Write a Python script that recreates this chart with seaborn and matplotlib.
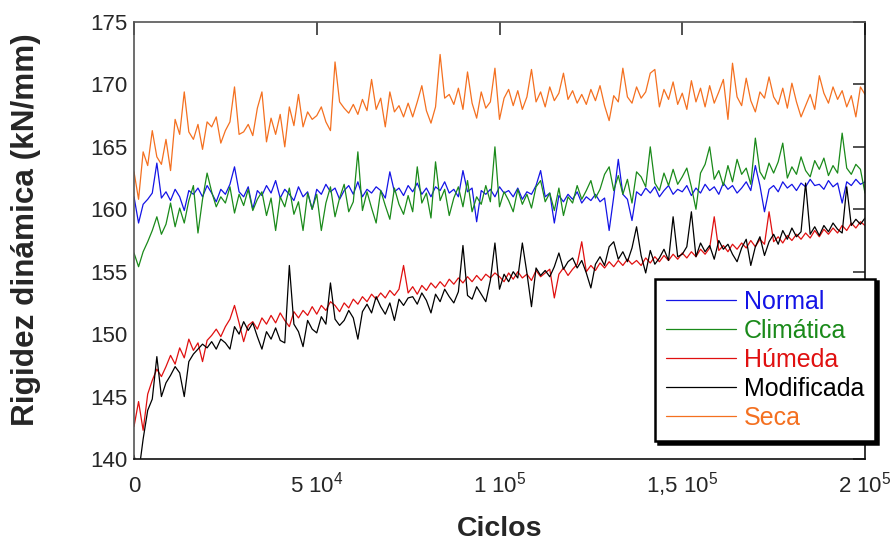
import numpy as np
import pandas as pd
import matplotlib
matplotlib.use("Agg")
import matplotlib.pyplot as plt
import seaborn as sns

# Load cycles, sampled every 1250 cycles
ciclos = np.arange(161) * 1250

normal = [
    161.0, 158.9, 160.4, 160.8, 161.3, 163.7, 160.9, 161.4, 160.7, 161.6, 161.0, 159.9, 161.5, 161.2, 161.7, 161.0, 161.9, 161.3, 160.6, 161.6,
    161.2, 162.0, 163.4, 161.4, 161.0, 161.8, 160.0, 161.5, 161.1, 161.9, 161.3, 162.3, 160.9, 161.6, 161.2, 160.7, 161.8, 161.0, 161.4, 160.0,
    161.6, 161.2, 162.0, 161.4, 161.7, 160.8, 161.5, 161.9, 161.2, 162.2, 161.0, 161.6, 161.3, 161.8, 161.5, 160.9, 163.0, 161.4, 161.7, 161.1,
    161.9, 161.4, 162.1, 161.2, 161.7, 161.0, 161.8, 161.5, 162.2, 161.3, 161.6, 161.0, 163.1, 161.4, 161.7, 159.0, 161.5, 161.2, 161.6, 161.0,
    161.8, 161.3, 161.5, 161.0, 161.7, 160.8, 161.4, 161.2, 161.9, 163.1, 161.0, 161.3, 158.9, 161.1, 160.6, 161.2, 160.8, 161.4, 160.5, 161.0,
    160.7, 161.2, 160.6, 160.9, 158.3, 161.0, 164.0, 161.2, 160.8, 159.1, 161.4, 161.1, 161.7, 161.3, 161.8, 161.0, 161.5, 161.9, 161.2, 161.6,
    161.4, 161.9, 161.1, 161.7, 161.3, 162.0, 161.5, 161.8, 161.2, 162.1, 161.6, 161.9, 161.3, 161.7, 162.2, 161.5, 163.5, 161.9, 159.8, 161.6,
    161.9, 161.4, 162.2, 161.7, 162.0, 161.5, 162.1, 161.8, 162.4, 161.9, 162.0, 161.6, 162.3, 161.8, 162.1, 160.5, 162.2, 161.9, 162.4, 162.0,
    162.2,
]

climatica = [
    156.5, 155.4, 156.6, 157.4, 158.3, 159.4, 158.0, 158.8, 160.5, 158.6, 160.1, 158.9, 160.7, 161.9, 158.1, 160.8, 162.9, 161.4, 160.2, 161.0,
    160.5, 161.8, 159.7, 161.2, 160.3, 161.6, 159.9, 160.8, 161.4, 159.5, 160.9, 158.3, 161.0, 160.2, 161.7, 159.6, 160.6, 158.3, 161.3, 160.0,
    161.2, 158.3, 160.5, 161.8, 159.4, 160.9, 162.0, 159.8, 160.6, 164.6, 159.9, 161.4, 160.1, 158.9, 161.5, 160.3, 159.2, 161.7, 160.4, 159.6,
    161.1, 159.8, 163.4, 160.5, 161.3, 159.3, 163.8, 160.7, 161.6, 159.5, 160.9, 161.8, 160.2, 162.3, 159.8, 161.0, 160.4, 161.9, 160.6, 165.0,
    160.2, 161.4, 160.7, 159.8, 161.6, 160.4, 161.2, 160.1, 161.8, 162.3, 160.6, 161.3, 159.9, 161.7, 159.5, 161.0, 160.5, 161.9, 160.8, 161.5,
    162.3, 160.9, 161.6, 162.8, 163.4, 161.5, 162.7, 161.2, 162.4, 160.5, 163.0, 162.6, 161.8, 165.0, 162.1, 161.5, 162.9, 161.9, 163.2, 162.0,
    162.6, 163.3, 161.8, 160.0, 162.9, 163.6, 165.0, 162.4, 163.1, 161.9, 163.5, 162.2, 164.0, 162.8, 163.3, 162.0, 165.7, 163.0, 162.4, 163.7,
    162.9, 163.8, 165.3, 162.5, 163.4, 162.8, 164.2, 163.1, 162.6, 163.9, 163.2, 164.1, 162.7, 163.5, 162.9, 166.1, 163.3, 162.8, 163.6, 163.2,
    161.3,
]

humeda = [
    142.6, 144.6, 142.3, 145.2, 146.3, 147.2, 146.6, 147.4, 148.3, 147.6, 148.9, 148.1, 149.6, 148.7, 149.3, 147.8, 149.5, 149.9, 150.4, 149.8,
    150.6, 151.2, 152.3, 150.9, 149.4, 150.7, 151.0, 150.4, 151.3, 150.8, 151.5, 150.9, 151.7, 151.1, 150.6, 151.8, 151.3, 151.9, 151.5, 152.2,
    151.6, 152.3, 151.9, 152.6, 152.3, 151.8, 152.5, 152.1, 152.8, 152.4, 153.0, 152.6, 153.2, 152.8, 153.3, 152.9, 153.5, 153.1, 153.6, 155.5,
    153.3, 153.8, 153.2, 153.9, 153.5, 154.1, 153.7, 154.2, 153.8, 154.4, 154.0, 154.5, 154.1, 154.6, 154.2, 154.7, 154.3, 154.8, 154.5, 154.9,
    154.6, 154.2, 154.9, 154.4, 155.0, 154.5, 154.8, 154.3, 155.1, 154.6, 154.9, 155.2, 152.9, 154.8, 155.3, 154.7, 155.2, 155.6, 157.4, 155.0,
    155.5, 155.1, 155.7, 155.3, 155.8, 155.4, 155.9, 155.5, 156.0, 155.6, 155.9, 155.5, 156.1, 155.7, 156.2, 155.8, 156.3, 155.9, 156.4, 156.0,
    156.5, 156.1, 156.6, 156.2, 156.8, 156.4, 156.9, 159.4, 156.7, 157.1, 156.6, 157.2, 156.8, 157.3, 156.9, 157.5, 157.0, 157.6, 157.2, 159.8,
    157.4, 157.8, 157.3, 157.9, 157.5, 158.0, 157.6, 158.1, 157.7, 158.3, 157.8, 158.4, 158.0, 158.5, 158.1, 158.7, 158.3, 158.9, 158.5, 159.0,
    158.7,
]

modificada = [
    140.3, 138.8, 141.6, 143.9, 144.8, 148.2, 145.0, 146.1, 146.7, 147.4, 146.9, 145.0, 147.8, 148.4, 148.8, 149.2, 148.9, 149.4, 148.8, 149.6,
    149.3, 148.8, 150.6, 150.0, 151.0, 150.3, 150.9, 149.8, 148.8, 150.2, 149.6, 150.5, 149.5, 149.3, 155.5, 150.8, 150.2, 149.0, 151.1, 150.4,
    150.1, 151.4, 150.8, 154.1, 151.2, 150.7, 151.1, 151.9, 151.3, 149.6, 151.8, 152.4, 151.7, 153.0, 152.2, 151.6, 152.5, 151.1, 152.8, 152.3,
    152.9, 153.0, 152.4, 153.3, 152.7, 151.7, 153.2, 152.6, 153.6, 153.0, 152.5, 153.4, 157.1, 153.1, 152.8, 153.8, 153.2, 152.6, 154.3, 157.3,
    153.6, 154.8, 154.2, 155.0, 154.5, 157.3, 154.9, 152.2, 155.3, 154.7, 155.1, 154.6, 155.4, 156.5, 155.2, 155.8, 156.1, 155.3, 155.9, 154.9,
    153.7, 155.6, 156.2, 155.5, 157.0, 157.4, 156.0, 156.6, 155.8, 156.9, 158.6, 156.3, 154.9, 156.7, 155.6, 156.1, 156.8, 155.9, 159.4, 156.2,
    156.4, 157.0, 159.8, 156.2, 157.3, 156.6, 157.1, 156.0, 157.5, 156.8, 157.2, 156.4, 155.8, 156.9, 157.6, 155.5, 157.0, 157.8, 156.3, 157.4,
    158.0, 157.2, 158.3, 157.6, 158.5, 157.8, 158.2, 162.1, 158.0, 158.6, 157.9, 158.7, 158.2, 158.9, 158.4, 158.1, 161.8, 158.7, 159.2, 158.8,
    159.3,
]

seca = [
    163.0, 160.8, 164.6, 163.5, 166.3, 164.2, 163.6, 165.6, 163.1, 167.2, 166.0, 169.4, 166.2, 165.6, 166.8, 164.8, 167.0, 166.6, 167.4, 165.3,
    166.3, 167.0, 169.8, 166.0, 166.2, 166.8, 165.9, 168.1, 169.4, 165.4, 167.3, 166.0, 167.6, 165.0, 168.2, 166.7, 169.2, 166.6, 167.8, 167.2,
    167.5, 168.2, 167.0, 166.3, 171.8, 168.6, 168.1, 167.7, 168.4, 167.6, 168.8, 167.9, 170.4, 168.0, 168.9, 166.6, 169.4, 167.8, 168.3, 167.4,
    168.5, 167.4, 168.6, 169.9, 167.9, 166.9, 168.2, 172.4, 168.9, 169.2, 168.4, 169.7, 168.0, 171.0, 168.5, 167.3, 169.4, 168.1, 168.6, 171.3,
    167.2, 168.9, 169.6, 168.3, 169.5, 168.0, 169.0, 171.2, 168.6, 169.4, 168.2, 169.8, 168.7, 169.3, 170.9, 168.8, 169.5, 168.5, 169.2, 168.4,
    169.6, 168.7, 169.9, 168.3, 167.1, 169.1, 168.6, 171.3, 169.0, 168.5, 169.8, 168.9, 169.4, 170.9, 171.2, 168.2, 169.6, 168.8, 170.2, 168.4,
    169.3, 168.0, 170.3, 168.6, 169.7, 168.2, 169.9, 168.5, 169.4, 170.4, 167.2, 171.7, 169.0, 168.3, 170.5, 168.7, 167.8, 169.4, 168.9, 170.6,
    169.0, 168.4, 169.7, 168.1, 170.1, 168.6, 167.4, 168.3, 169.2, 168.0, 170.7, 169.3, 168.5, 169.8, 168.8, 169.5, 168.2, 169.1, 167.4, 169.8,
    169.2,
]

series_names = ["Normal", "Climática", "Húmeda", "Modificada", "Seca"]
series_values = [normal, climatica, humeda, modificada, seca]
colores = {
    "Normal": "#1414e6",
    "Climática": "#1a8a1a",
    "Húmeda": "#e01010",
    "Modificada": "#000000",
    "Seca": "#f47020",
}

x_ticks = [0, 50000, 100000, 150000, 200000]
x_tick_labels = ["0", r"5 10$^{4}$", r"1 10$^{5}$", r"1,5 10$^{5}$", r"2 10$^{5}$"]
y_ticks = [140, 145, 150, 155, 160, 165, 170, 175]

df = pd.concat(
    [pd.DataFrame({"Ciclos": ciclos, "Rigidez": vals, "Ensayo": name})
     for name, vals in zip(series_names, series_values)],
    ignore_index=True,
)

sns.set_theme(style="white")
plt.rcParams["font.family"] = ["Liberation Sans", "DejaVu Sans"]
plt.rcParams["mathtext.fontset"] = "custom"
plt.rcParams["mathtext.rm"] = "Liberation Sans"
plt.rcParams["mathtext.it"] = "Liberation Sans"

fig = plt.figure(figsize=(8.96, 5.45), dpi=100)
ax = fig.add_axes([134 / 896, 1 - 459 / 545, 731 / 896, 437 / 545])

sns.lineplot(
    data=df, x="Ciclos", y="Rigidez", hue="Ensayo", hue_order=series_names,
    palette=colores, estimator=None, sort=False, linewidth=0.9, ax=ax, legend=False,
)

ax.set_xlim(0, 200000)
ax.set_ylim(140, 175)
ax.set_xticks(x_ticks)
ax.set_xticklabels(x_tick_labels, va="baseline")
ax.set_yticks(y_ticks)
ax.tick_params(axis="both", which="major", direction="in", length=9, width=1.2,
               top=True, right=True, labelsize=16, color="#333333")
ax.tick_params(axis="x", pad=24)
ax.tick_params(axis="y", pad=5)
for lbl in ax.get_xticklabels():
    lbl.set_verticalalignment("baseline")
for side, col in [("left", "#555555"), ("top", "#555555"),
                  ("bottom", "#111111"), ("right", "#111111")]:
    ax.spines[side].set_color(col)
    ax.spines[side].set_linewidth(1.2)

ax.set_xlabel("Ciclos", fontsize=20.5, fontweight="bold", labelpad=12)
ax.set_ylabel("Rigidez dinámica (kN/mm)", fontsize=22.7, fontweight="bold")
ax.yaxis.set_label_coords(-0.127, 0.524)

handles = [plt.Line2D([], [], color=colores[n], linewidth=0.9) for n in series_names]
leg = fig.legend(
    handles, series_names, loc="lower left",
    bbox_to_anchor=(655 / 896, 1 - 441 / 545), bbox_transform=fig.transFigure,
    borderaxespad=0, frameon=True, fancybox=False,
    shadow={"color": "black", "alpha": 1.0},
    prop={"size": 18},
    handlelength=2.8, handletextpad=0.3, labelspacing=0.2, borderpad=0.45,
)
leg.get_frame().set_edgecolor("black")
leg.get_frame().set_linewidth(1.8)
leg.get_frame().set_facecolor("white")
for txt, n in zip(leg.get_texts(), series_names):
    txt.set_color(colores[n])

fig.savefig("out.png", dpi=100)
